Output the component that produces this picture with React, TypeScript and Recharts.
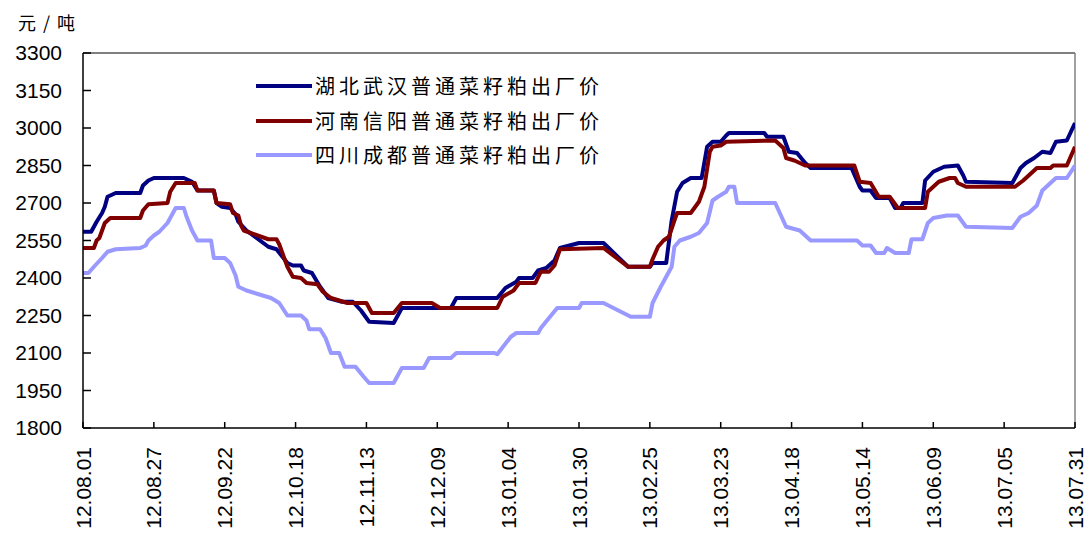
import React from 'react';
import { LineChart, Line, XAxis, YAxis, ReferenceLine, Legend } from 'recharts';

// Category tick labels (yy.mm.dd) and price axis ticks
const tickLabels = [
  '12.08.01', '12.08.27', '12.09.22', '12.10.18', '12.11.13', '12.12.09', '13.01.04', '13.01.30',
  '13.02.25', '13.03.23', '13.04.18', '13.05.14', '13.06.09', '13.07.05', '13.07.31',
];
const priceTicks = [1800, 1950, 2100, 2250, 2400, 2550, 2700, 2850, 3000, 3150, 3300];

// Day offsets (from 2012-08-01) where each price series changes, with its price in 元/吨
const wuhanDays = [
  0, 3, 5, 7, 8, 9, 12, 21, 22, 24, 26, 37, 40, 42, 48, 49, 51, 54, 56, 57,
  60, 68, 71, 75, 77, 80, 81, 84, 87, 90, 95, 99, 102, 105, 114, 117, 135, 137, 152, 155,
  159, 160, 165, 167, 170, 173, 175, 182, 191, 200, 208, 209, 214, 216, 218, 220, 223, 227, 229, 231,
  234, 236, 237, 250, 251, 257, 259, 262, 265, 267, 282, 285, 286, 289, 291, 296, 298, 300, 301, 308,
  309, 312, 316, 321, 323, 324, 341, 344, 346, 349, 352, 355, 357, 361, 364,
];
const wuhanPrices = [
  2585, 2585, 2625, 2660, 2685, 2725, 2740, 2740, 2770, 2790, 2800, 2800, 2785, 2750, 2750, 2700, 2685, 2680, 2655, 2625,
  2590, 2525, 2515, 2460, 2450, 2450, 2430, 2420, 2365, 2320, 2305, 2305, 2270, 2225, 2220, 2280, 2280, 2320, 2320, 2360,
  2385, 2400, 2400, 2430, 2440, 2470, 2520, 2540, 2540, 2445, 2445, 2460, 2460, 2630, 2745, 2780, 2800, 2800, 2925, 2945,
  2945, 2970, 2980, 2980, 2965, 2965, 2905, 2900, 2860, 2840, 2840, 2765, 2750, 2750, 2720, 2720, 2680, 2680, 2700, 2700,
  2790, 2825, 2845, 2850, 2810, 2785, 2780, 2840, 2860, 2880, 2905, 2900, 2945, 2950, 3020,
];

const xinyangDays = [
  0, 4, 5, 6, 7, 8, 10, 21, 22, 24, 31, 32, 34, 41, 42, 48, 49, 54, 55, 57,
  58, 59, 68, 71, 72, 75, 77, 80, 82, 86, 88, 91, 94, 97, 104, 106, 114, 117, 128, 131,
  152, 154, 158, 160, 166, 168, 171, 173, 175, 191, 200, 208, 209, 211, 213, 215, 217, 218, 223, 225,
  226, 228, 230, 231, 234, 236, 254, 257, 258, 261, 265, 283, 285, 289, 292, 296, 299, 309, 310, 314,
  318, 320, 321, 324, 342, 345, 348, 350, 355, 356, 361, 364,
];
const xinyangPrices = [
  2520, 2520, 2550, 2560, 2590, 2620, 2640, 2640, 2670, 2695, 2700, 2745, 2780, 2780, 2750, 2750, 2700, 2695, 2660, 2650,
  2610, 2590, 2555, 2555, 2535, 2445, 2405, 2400, 2380, 2375, 2345, 2320, 2310, 2300, 2300, 2260, 2260, 2300, 2300, 2280,
  2280, 2325, 2350, 2380, 2380, 2425, 2425, 2450, 2515, 2520, 2445, 2445, 2475, 2525, 2550, 2565, 2630, 2660, 2660, 2690,
  2705, 2765, 2905, 2925, 2930, 2945, 2950, 2920, 2880, 2870, 2850, 2850, 2785, 2780, 2725, 2725, 2680, 2680, 2745, 2785,
  2800, 2800, 2780, 2765, 2765, 2790, 2820, 2840, 2840, 2850, 2850, 2925,
];

const chengduDays = [
  0, 2, 4, 7, 9, 12, 21, 23, 24, 26, 28, 31, 32, 34, 37, 38, 40, 42, 47, 48,
  52, 54, 56, 57, 60, 69, 72, 75, 80, 82, 83, 87, 89, 91, 94, 96, 100, 103, 105, 114,
  117, 125, 127, 135, 137, 151, 152, 157, 159, 167, 168, 174, 182, 183, 191, 201, 208, 209, 212, 214,
  216, 217, 219, 223, 226, 229, 231, 233, 236, 237, 239, 240, 254, 258, 263, 267, 284, 286, 289, 291,
  294, 295, 298, 303, 304, 308, 310, 312, 317, 321, 324, 341, 344, 347, 350, 352, 357, 361, 364,
];
const chengduPrices = [
  2420, 2420, 2445, 2480, 2505, 2515, 2520, 2530, 2550, 2570, 2585, 2620, 2640, 2680, 2680, 2645, 2590, 2550, 2550, 2480,
  2480, 2460, 2410, 2365, 2350, 2320, 2300, 2250, 2250, 2230, 2195, 2195, 2160, 2100, 2100, 2045, 2045, 2005, 1980, 1980,
  2040, 2040, 2080, 2080, 2100, 2100, 2095, 2165, 2180, 2180, 2200, 2280, 2280, 2300, 2300, 2245, 2245, 2300, 2365, 2405,
  2445, 2525, 2550, 2565, 2580, 2620, 2710, 2725, 2745, 2765, 2765, 2700, 2700, 2605, 2590, 2550, 2550, 2530, 2530, 2500,
  2500, 2520, 2500, 2500, 2555, 2555, 2620, 2640, 2650, 2650, 2605, 2600, 2645, 2660, 2690, 2750, 2800, 2800, 2850,
];

const seriesNames = ['湖北武汉普通菜籽粕出厂价', '河南信阳普通菜籽粕出厂价', '四川成都普通菜籽粕出厂价'];
const seriesColors = ['#000080', '#800000', '#9999FF'];

const START = Date.UTC(2012, 7, 1);
const dayOf = (label: string) => {
  const [y, m, d] = label.split('.').map(Number);
  return Math.round((Date.UTC(2000 + y, m - 1, d) - START) / 86400000);
};
const tickDays = tickLabels.map(dayOf);
const labelByDay = new Map(tickDays.map((d, i) => [d, tickLabels[i]] as [number, string]));
const lastDay = tickDays[tickDays.length - 1];

const toPoints = (days: number[], prices: number[]) => days.map((day, i) => ({ day, price: prices[i] }));
const wuhan = toPoints(wuhanDays, wuhanPrices);
const xinyang = toPoints(xinyangDays, xinyangPrices);
const chengdu = toPoints(chengduDays, chengduPrices);

const NUM_FONT = '"Liberation Sans", Arial, sans-serif';
const CJK_FONT = '"Noto Sans CJK SC", "Noto Sans", sans-serif';

const DateTick = (props: any) => {
  const { x, y, payload } = props;
  return (
    <text
      x={x}
      y={y}
      transform={`rotate(-90, ${x}, ${y})`}
      textAnchor="end"
      dominantBaseline="central"
      fontFamily={NUM_FONT}
      fontSize={21}
      fill="#000"
    >
      {labelByDay.get(payload.value)}
    </text>
  );
};

// Legend rows follow the series order (Wuhan, Xinyang, Chengdu)
const LegendBox = (props: any) => {
  const items = [...(props.payload || [])].sort(
    (a: any, b: any) => seriesNames.indexOf(a.value) - seriesNames.indexOf(b.value),
  );
  return (
    <div style={{ position: 'relative' }}>
      {items.map((item: any, i: number) => (
        <div
          key={i}
          style={{ display: 'flex', alignItems: 'center', height: 34.5, whiteSpace: 'nowrap' }}
        >
          <div style={{ width: 56, height: 4, background: item.color, marginRight: 3 }} />
          <span style={{ fontFamily: CJK_FONT, fontSize: 20, letterSpacing: 4, color: '#000', lineHeight: 1 }}>
            {item.value}
          </span>
        </div>
      ))}
    </div>
  );
};

export default function App() {
  const series = [wuhan, xinyang, chengdu];
  return (
    <div style={{ position: 'relative', width: 1086, height: 534, background: '#fff' }}>
      <style>{'body{margin:0;background:#fff;}'}</style>
      <div
        style={{
          position: 'absolute',
          left: 18,
          top: 13,
          fontFamily: CJK_FONT,
          fontSize: 18,
          letterSpacing: 7,
          color: '#000',
          lineHeight: 1,
          whiteSpace: 'nowrap',
        }}
      >
        元/吨
      </div>
      <LineChart width={1086} height={534} margin={{ top: 53, right: 11, bottom: 0, left: 0 }}>
        <XAxis
          dataKey="day"
          type="number"
          domain={[0, lastDay]}
          ticks={tickDays}
          interval={0}
          height={106}
          tick={<DateTick />}
          tickSize={-6}
          tickMargin={25}
          axisLine={{ stroke: '#000', strokeWidth: 1.5 }}
          tickLine={{ stroke: '#000', strokeWidth: 1.5 }}
          allowDataOverflow
        />
        <YAxis
          type="number"
          domain={[1800, 3300]}
          ticks={priceTicks}
          interval={0}
          width={83}
          tickSize={-8}
          tickMargin={29}
          tick={{ fontFamily: NUM_FONT, fontSize: 21, fill: '#000' }}
          axisLine={{ stroke: '#000', strokeWidth: 1.5 }}
          tickLine={{ stroke: '#000', strokeWidth: 1.5 }}
          allowDataOverflow
        />
        <ReferenceLine y={3300} stroke="#808080" strokeWidth={2} />
        <ReferenceLine x={lastDay} stroke="#808080" strokeWidth={1.5} />
        {series.map((data, i) => (
          <Line
            key={seriesNames[i]}
            data={data}
            dataKey="price"
            name={seriesNames[i]}
            type="linear"
            stroke={seriesColors[i]}
            strokeWidth={4}
            strokeLinejoin="round"
            dot={false}
            activeDot={false}
            isAnimationActive={false}
          />
        ))}
        <Legend
          layout="horizontal"
          verticalAlign="middle"
          align="center"
          content={<LegendBox />}
          wrapperStyle={{ left: 256, top: 69, width: 420 }}
        />
      </LineChart>
    </div>
  );
}
